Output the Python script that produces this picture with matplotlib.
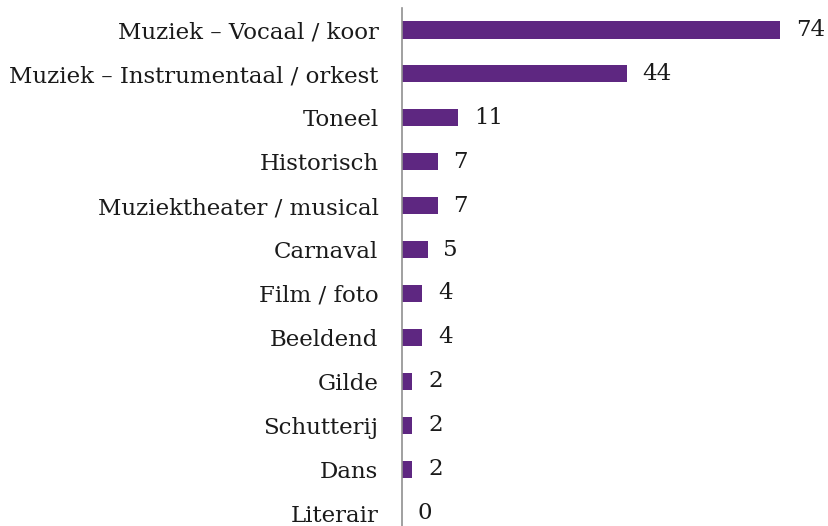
import matplotlib
matplotlib.use('Agg')
import matplotlib.pyplot as plt

categories = ['Muziek – Vocaal / koor', 'Muziek – Instrumentaal / orkest', 'Toneel',
              'Historisch', 'Muziektheater / musical', 'Carnaval', 'Film / foto',
              'Beeldend', 'Gilde', 'Schutterij', 'Dans', 'Literair']
values = [74, 44, 11, 7, 7, 5, 4, 4, 2, 2, 2, 0]

plt.rcParams['font.family'] = ['DejaVu Serif']

fig = plt.figure(figsize=(8.29, 5.26), dpi=100)
ax = fig.add_axes([402 / 829, 0, 424 / 829, 518 / 526])

pos = list(range(len(categories)))
ax.barh(pos, values, height=0.39, color='#5E2781')
for p, v in zip(pos, values):
    ax.text(v + 3.1, p, str(v), va='center', ha='left', fontsize=16.5, color='#1a1a1a')

ax.set_xlim(0, 83)
ax.set_ylim(11.295, -0.5)
ax.set_yticks(pos)
ax.set_yticklabels(categories, fontsize=16.5, color='#1a1a1a')
ax.tick_params(axis='y', length=0, pad=17)
ax.set_xticks([])
for s in ['top', 'right', 'bottom']:
    ax.spines[s].set_visible(False)
ax.spines['left'].set_color('#909090')
ax.spines['left'].set_linewidth(1.2)

fig.savefig('out.png', dpi=100)
